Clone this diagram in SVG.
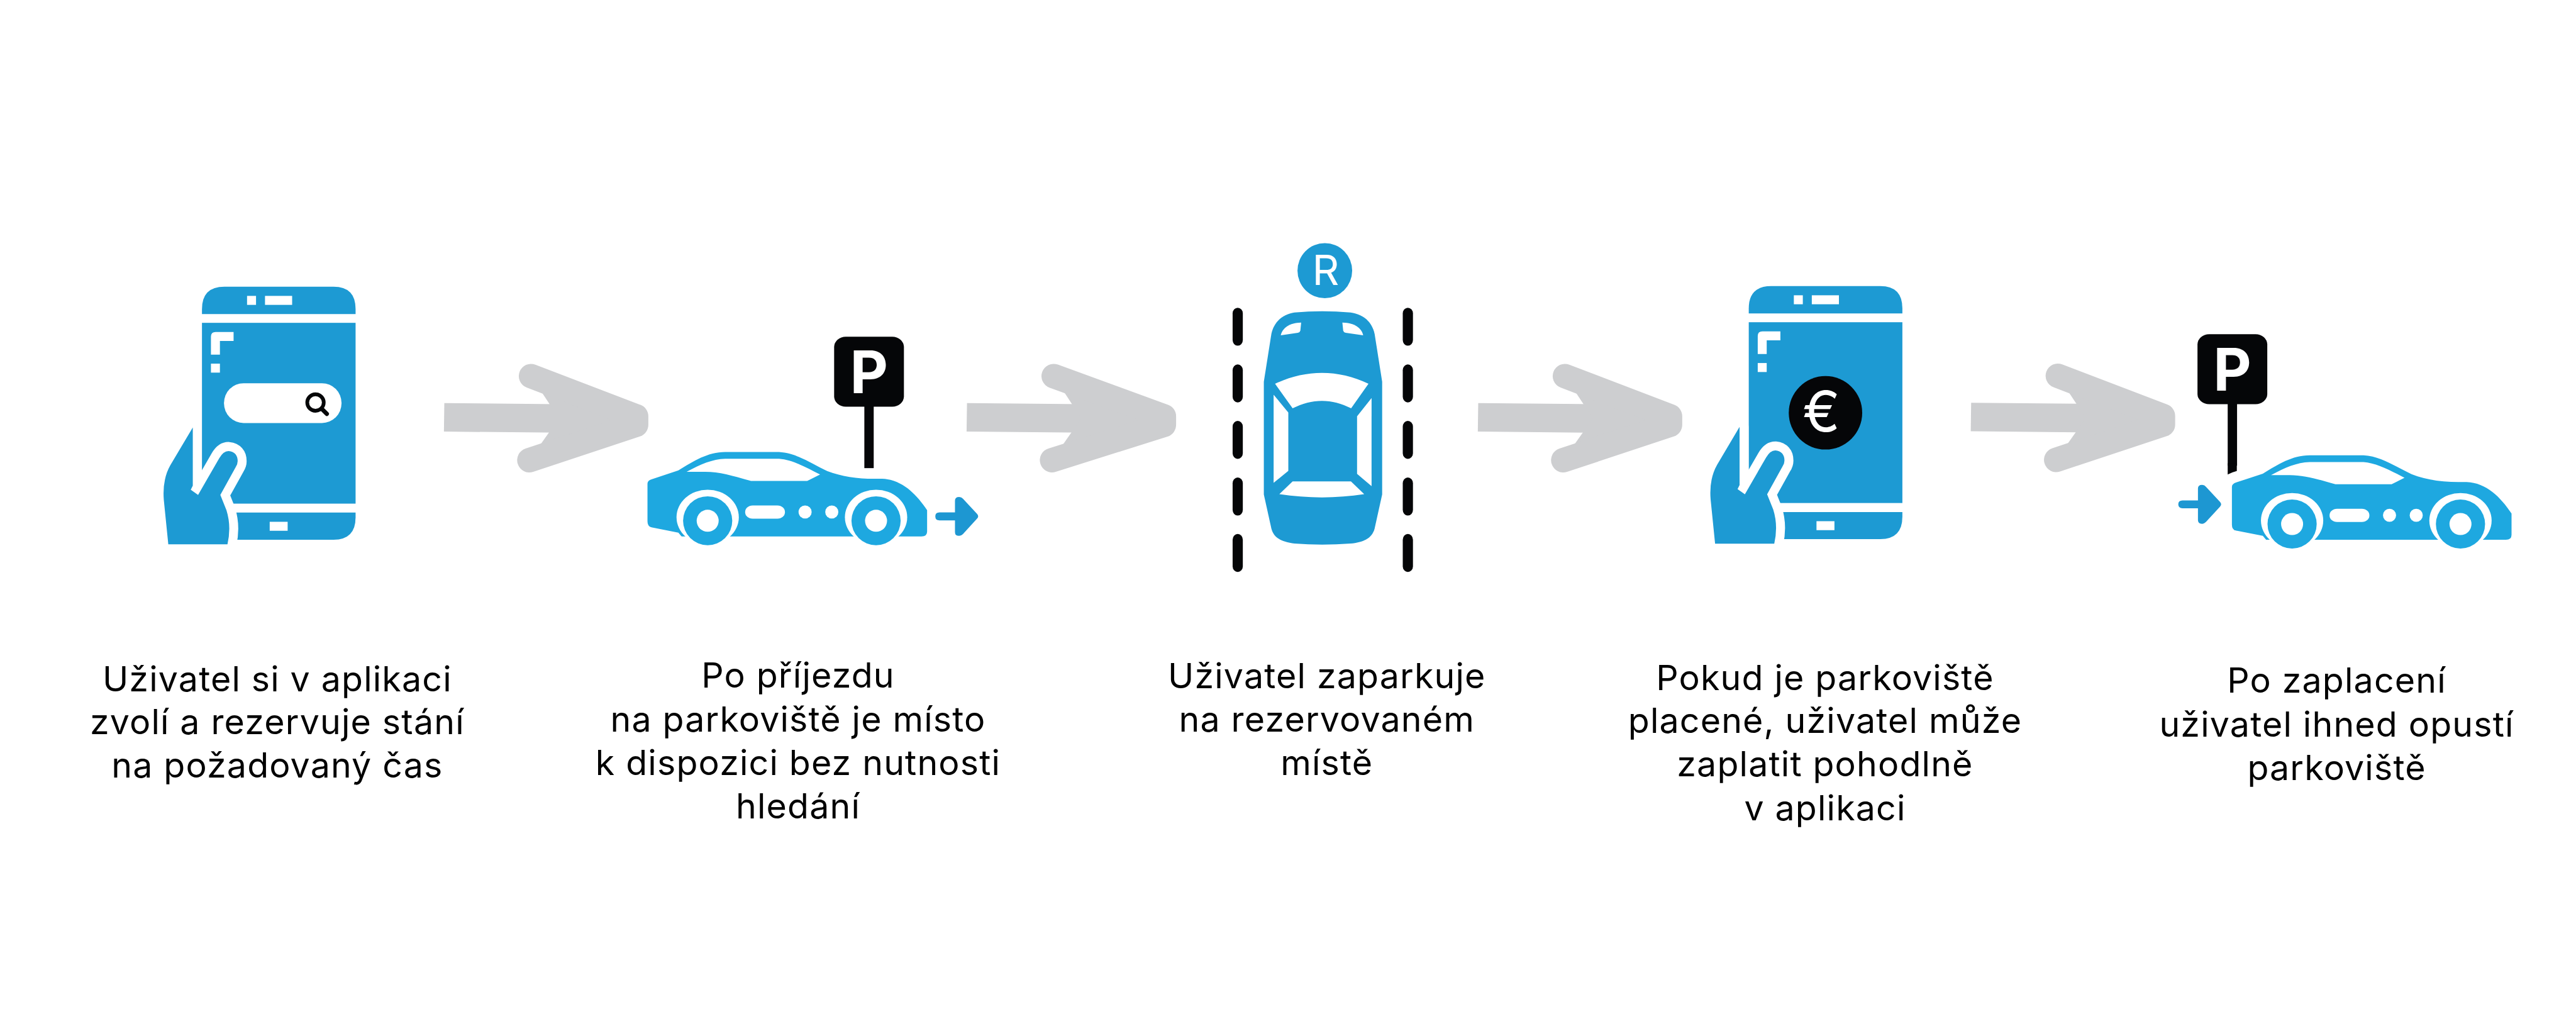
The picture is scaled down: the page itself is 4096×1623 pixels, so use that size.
<svg xmlns="http://www.w3.org/2000/svg" width="4096" height="1623" viewBox="0 0 4096 1623">
<style>
.bl{fill:#1d9ad3}.cr{fill:#1ea8e0}.wh{fill:#fff}.bk{fill:#050608}.ar{fill:#1d97d2}
.gs{fill:none;stroke:#cdced0;stroke-width:120;stroke-linecap:round;stroke-linejoin:round}.gf{fill:#cdced0}
text{font-family:"Inter","Noto Sans",sans-serif;font-size:57px;letter-spacing:1.2px;fill:#000;text-anchor:middle}
text.p{font-size:96px;font-weight:700;fill:#fff;letter-spacing:0}
text.r{font-size:68.5px;fill:#fff;letter-spacing:0}
text.e{font-size:92px;fill:#fff;letter-spacing:0}
</style>
<defs>
<g id="phone">
<path class="bl" d="M330 279V255Q330 145 440 145H975Q1083 145 1083 255V279Z"/>
<rect class="wh" x="551" y="190" width="44" height="44"/><rect class="wh" x="639" y="190" width="133" height="44"/>
<rect class="bl" x="330" y="322" width="753" height="886"/>
<path class="wh" d="M374 478V390Q374 367 397 367H485V411H418V478Z"/><rect class="wh" x="374" y="522" width="44" height="44"/>
<path class="bl" d="M440 1252H1083V1275Q1083 1385 975 1385H440Z"/>
<rect class="wh" x="662" y="1297" width="88" height="44"/>
<path class="bl" style="stroke:#fff;stroke-width:88;paint-order:stroke;stroke-linejoin:round" d="M285 835V1120L275 1140L311 1165L415 985Q435 950 460 950Q505 955 505 1000Q505 1015 495 1030L420 1165L450 1240Q475 1320 455 1407H165L143 1190Q135 1090 175 1020Z"/>
</g>
<g id="car">
<path class="cr" d="M92 788L205 745C270 700 330 655 405 655H635C710 660 770 710 840 748C900 775 970 786 1040 786H1075C1160 790 1220 860 1267 940V1045Q1267 1069 1243 1069H100L90 1025Q73 1020 73 995V810Q73 795 92 788Z"/>
<path class="wh" d="M240 752C300 715 350 690 405 688H635C690 692 750 730 810 765L755 797H515C440 772 380 752 320 752Z"/>
<path class="wh" d="M73 1020L205 1050L260 1125H60Z"/>
<rect class="wh" x="490" y="917" width="170" height="65" rx="32"/>
<ellipse class="wh" cx="746" cy="949" rx="28" ry="32"/><ellipse class="wh" cx="860" cy="949" rx="28" ry="32"/>
<ellipse class="wh" cx="330" cy="975" rx="133" ry="135"/><ellipse class="wh" cx="1049" cy="975" rx="133" ry="135"/>
<rect class="wh" x="197" y="1070" width="266" height="60"/><rect class="wh" x="916" y="1070" width="266" height="60"/>
<ellipse class="cr" cx="330" cy="992" rx="105" ry="120"/><ellipse class="wh" cx="330" cy="992" rx="47" ry="54"/>
<ellipse class="cr" cx="1049" cy="992" rx="105" ry="120"/><ellipse class="wh" cx="1049" cy="992" rx="47" ry="54"/>
</g>
<g id="sm">
<path class="ar" d="M1320 951H1386V893Q1386 875 1404 875Q1414 875 1420 884L1480 958Q1490 970 1480 982L1420 1057Q1412 1066 1404 1066Q1386 1066 1386 1048V990H1320Q1302 990 1302 970Q1302 951 1320 951Z"/>
</g>
<g id="sign">
<rect class="bk" x="999" y="420" width="40" height="314"/>
<rect class="bk" x="870" y="90" width="298" height="343" rx="50"/>
</g>
<g id="big">
<path class="gf" d="M78 265L800 272V412L76 405Z"/>
<path class="gf" d="M503 133L1018 330V372L495 545L640 340Z"/>
<path class="gs" d="M503 133L1018 330V372L495 545"/>
</g>
<rect id="dash" class="bk" x="192" y="330" width="50" height="167" rx="25"/>
</defs>
<rect width="4096" height="1623" fill="#fff"/>
<g transform="scale(0.97316)">
<g id="connectors">
<use href="#big" transform="translate(700 570) scale(.33333)"/>
<g transform="translate(1560 570) scale(.33333)">
<path class="gf" d="M60 265L800 272V412L58 405Z"/>
<path class="gf" d="M485 133L1025 330V372L477 545L620 340Z"/>
<path class="gs" d="M485 133L1025 330V372L477 545"/>
</g>
<use href="#big" transform="translate(2389.3 570) scale(.33333)"/>
<use href="#big" transform="translate(3194.7 569.5) scale(.33333)"/>
</g>
<g id="step1">
<use href="#phone" transform="translate(220 420) scale(.33333)"/>
<rect class="wh" x="366" y="626" width="192" height="65" rx="32"/>
<circle cx="515.5" cy="657.5" r="13.5" fill="none" stroke="#050608" stroke-width="6"/>
<path d="M526 668L534 676" stroke="#050608" stroke-width="7" stroke-linecap="round"/>
<text x="453" y="1129">Uživatel si v aplikaci</text><text x="453" y="1199.5">zvolí a rezervuje stání</text><text x="453" y="1270">na požadovaný čas</text>
</g>
<g id="step2">
<g transform="translate(1030 520) scale(.38265 .33333)"><use href="#sign"/><use href="#car"/><use href="#sm"/></g>
<text class="p" x="1420" y="642">P</text>
<text x="1304" y="1123">Po příjezdu</text><text x="1304" y="1195">na parkoviště je místo</text><text x="1304" y="1266">k dispozici bez nutnosti</text><text x="1304" y="1337">hledání</text>
</g>
<g id="step3">
<g transform="translate(1950 380) scale(.33333 .37179)">
<ellipse class="bl" cx="644" cy="167" rx="134" ry="121"/>
<use href="#dash"/><use href="#dash" y="249"/><use href="#dash" y="497"/><use href="#dash" y="746"/><use href="#dash" y="994"/>
<use href="#dash" x="834"/><use href="#dash" x="834" y="249"/><use href="#dash" x="834" y="497"/><use href="#dash" x="834" y="746"/><use href="#dash" x="834" y="994"/>
<path class="bl" d="M495 351Q630 340 770 351C830 358 875 390 888 445L925 655V1150L888 1300C875 1345 830 1360 770 1366Q630 1375 495 1366C440 1360 395 1345 382 1300L345 1150V655L382 445C395 390 440 358 495 351Z"/>
<path class="wh" d="M528 395L524 430Q522 438 512 440L428 451C435 420 470 396 528 395Z"/>
<path class="wh" d="M730 395L734 430Q736 438 746 440L832 451C825 420 790 396 730 395Z"/>
<path class="wh" d="M400 664C550 600 710 600 858 664L773 772C680 728 580 728 486 772Z"/>
<path class="wh" d="M393 712L465 790V1047L393 1099Z"/>
<path class="wh" d="M873 727L802 807V1060L873 1114Z"/>
<path class="wh" d="M486 1093H772L837 1149C700 1168 560 1168 421 1149Z"/>
</g>
<text class="r" x="2166" y="465.5">R</text>
<text x="2168" y="1124">Uživatel zaparkuje</text><text x="2168" y="1195">na rezervovaném</text><text x="2168" y="1266">místě</text>
</g>
<g id="step4">
<g transform="translate(2527.33 -1)"><use href="#phone" transform="translate(220 420) scale(.33333)"/></g>
<circle class="bk" cx="2982.7" cy="674.3" r="60"/>
<text class="e" x="2976" y="705">€</text>
<text x="2982" y="1127">Pokud je parkoviště</text><text x="2982" y="1197">placené, uživatel může</text><text x="2982" y="1268">zaplatit pohodlně</text><text x="2982" y="1340">v aplikaci</text>
</g>
<g id="step5">
<g transform="translate(3540 530) scale(.38265 .33333)">
<use href="#sign" transform="translate(-738 -42)"/>
<rect class="bk" x="261" y="680" width="39" height="60"/>
<path class="wh" d="M255 738Q278 724 305 716V770H255Z"/>
<use href="#car" transform="translate(206 -14)"/><use href="#sm" transform="translate(-1252 -89)"/>
</g>
<text class="p" x="3647.5" y="638">P</text>
<text x="3818" y="1131">Po zaplacení</text><text x="3818" y="1203">uživatel ihned opustí</text><text x="3818" y="1274">parkoviště</text>
</g>
</g>
</svg>
